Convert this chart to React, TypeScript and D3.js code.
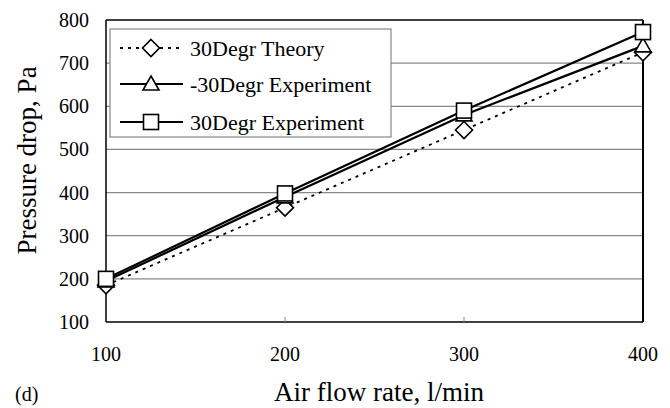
import React from "react";
import * as d3 from "d3";

const flowRates = [100, 200, 300, 400];
const theory30 = [185, 365, 545, 725];
const expMinus30 = [195, 390, 580, 740];
const exp30 = [200, 398, 590, 772];
const yTicks = [100, 200, 300, 400, 500, 600, 700, 800];
const xTicks = [100, 200, 300, 400];
const seriesNames = ["30Degr Theory", "-30Degr Experiment", "30Degr Experiment"];

const W = 670, H = 408;
const L = 106, R = 643, T = 20, B = 322;
const fontStyle = { fontFamily: '"Liberation Serif", "DejaVu Serif", "Times New Roman", serif' };

function Marker({ type, x, y }: { type: string; x: number; y: number }) {
  if (type === "diamond") {
    const s = 8.5;
    return <path d={`M${x},${y - s}L${x + s},${y}L${x},${y + s}L${x - s},${y}Z`} fill="#fff" stroke="#000" strokeWidth={1.6} />;
  }
  if (type === "triangle") {
    const s = 8;
    return <path d={`M${x},${y - s}L${x + s},${y + 6}L${x - s},${y + 6}Z`} fill="#fff" stroke="#000" strokeWidth={1.6} />;
  }
  const s = 7.5;
  return <rect x={x - s} y={y - s} width={2 * s} height={2 * s} fill="#fff" stroke="#000" strokeWidth={1.6} />;
}

export default function App() {
  const x = d3.scaleLinear().domain([100, 400]).range([L, R]);
  const y = d3.scaleLinear().domain([100, 800]).range([B, T]);
  const line = d3.line<number>().x((_, i) => x(flowRates[i])).y((d) => y(d));
  const series = [
    { name: seriesNames[0], data: theory30, marker: "diamond", dash: "3,5", width: 1.8 },
    { name: seriesNames[1], data: expMinus30, marker: "triangle", dash: undefined, width: 2.2 },
    { name: seriesNames[2], data: exp30, marker: "square", dash: undefined, width: 2.2 },
  ];
  const legendY = [48, 84, 122];
  return (
    <svg width={W} height={H} style={{ position: "absolute", left: 0, top: 0, background: "#fff", ...fontStyle }}>
      <rect x={0} y={0} width={W} height={H} fill="#fff" />
      {yTicks.filter((t) => t !== 100 && t !== 800).map((t) => (
        <line key={t} x1={L} x2={R} y1={y(t)} y2={y(t)} stroke="#888" strokeWidth={1.2} />
      ))}
      <line x1={L} x2={R} y1={T} y2={T} stroke="#000" strokeWidth={1.5} />
      <line x1={R} x2={R} y1={T} y2={B} stroke="#000" strokeWidth={2} />
      <line x1={L} x2={L} y1={T} y2={B} stroke="#000" strokeWidth={1.5} />
      <line x1={L} x2={R} y1={B} y2={B} stroke="#000" strokeWidth={1.5} />
      {xTicks.slice(1, 3).map((t) => (
        <line key={t} x1={x(t)} x2={x(t)} y1={B} y2={B - 5} stroke="#888" strokeWidth={1} />
      ))}
      {yTicks.map((t) => (
        <text key={t} x={89} y={y(t) + 7} textAnchor="end" style={fontStyle} fontSize={20}>{t}</text>
      ))}
      {xTicks.map((t) => (
        <text key={t} x={x(t)} y={361} textAnchor="middle" style={fontStyle} fontSize={20}>{t}</text>
      ))}
      {series.map((s) => (
        <g key={s.name}>
          <path d={line(s.data) || ""} fill="none" stroke="#000" strokeWidth={s.width} strokeDasharray={s.dash} />
          {s.data.map((v, i) => <Marker key={i} type={s.marker} x={x(flowRates[i])} y={y(v)} />)}
        </g>
      ))}
      <rect x={110} y={29} width={281} height={108} fill="#fff" stroke="#888" strokeWidth={1.2} />
      {series.map((s, i) => (
        <g key={s.name}>
          <line x1={120} x2={183} y1={legendY[i]} y2={legendY[i]} stroke="#000" strokeWidth={s.width} strokeDasharray={s.dash} />
          <Marker type={s.marker} x={151} y={legendY[i]} />
          <text x={190} y={legendY[i] + 8} style={fontStyle} fontSize={22}>{s.name}</text>
        </g>
      ))}
      <text x={379} y={401} textAnchor="middle" style={fontStyle} fontSize={27}>Air flow rate, l/min</text>
      <text transform={`translate(36,${(65 + 256) / 2}) rotate(-90)`} textAnchor="middle" style={fontStyle} fontSize={27}>Pressure drop, Pa</text>
      <text x={15} y={401} style={fontStyle} fontSize={20}>(d)</text>
    </svg>
  );
}
